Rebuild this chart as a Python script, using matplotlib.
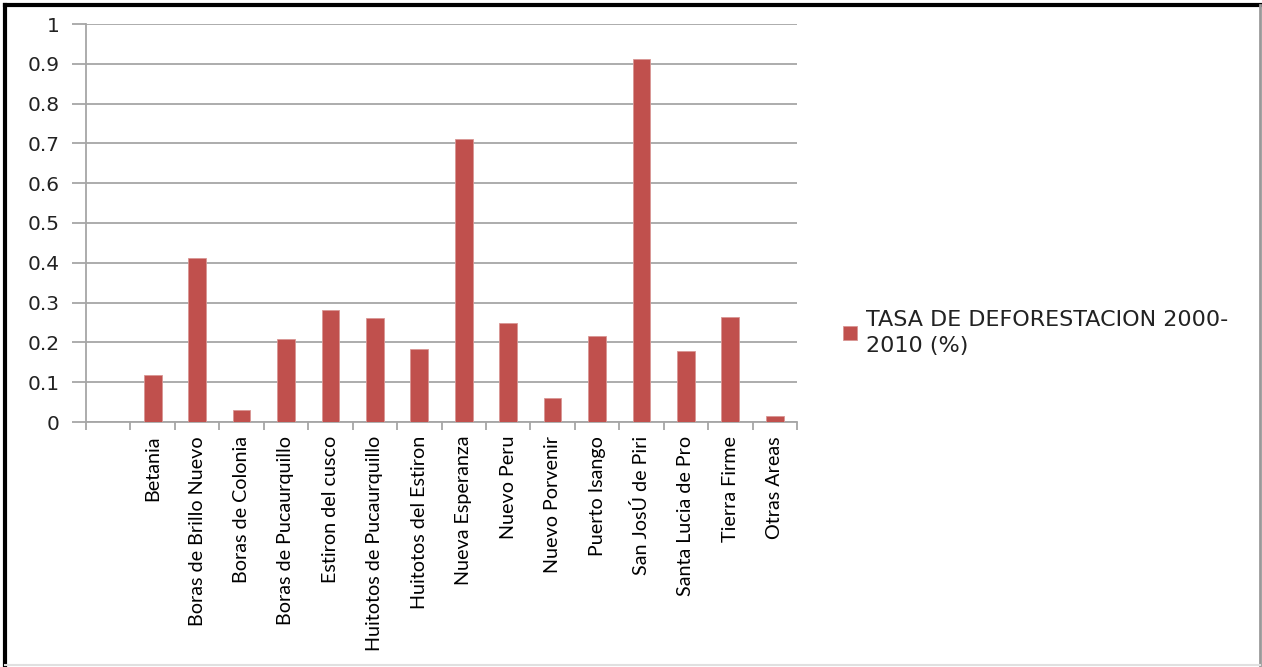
import matplotlib
matplotlib.use("Agg")
import matplotlib.pyplot as plt
import numpy as np
from matplotlib.lines import Line2D

categories = ["Betania", "Boras de Brillo Nuevo", "Boras de Colonia",
              "Boras de Pucaurquillo", "Estiron del cusco",
              "Huitotos de Pucaurquillo", "Huitotos del Estiron",
              "Nueva Esperanza", "Nuevo Peru", "Nuevo Porvenir",
              "Puerto Isango", "San JosÚ de Piri", "Santa Lucia de Pro",
              "Tierra Firme", "Otras Areas"]
tasa = [0.117, 0.412, 0.030, 0.209, 0.282, 0.262, 0.184, 0.710, 0.249,
        0.061, 0.217, 0.911, 0.178, 0.264, 0.014]
series_label = "TASA DE DEFORESTACION 2000-\n2010 (%)"
yticks = [0, 0.1, 0.2, 0.3, 0.4, 0.5, 0.6, 0.7, 0.8, 0.9, 1]
ytick_labels = ["0", "0.1", "0.2", "0.3", "0.4", "0.5", "0.6", "0.7", "0.8", "0.9", "1"]

W, H = 1262, 667
fig = plt.figure(figsize=(W / 100, H / 100), dpi=100)
ax = fig.add_axes([86 / W, 1 - 422 / H, (797 - 86) / W, (422 - 24) / H])

grid_c = "#A6A6A6"
bar_c = "#C0504D"
x = np.arange(len(categories)) + 1
ax.bar(x, tasa, width=0.4, color=bar_c, edgecolor="#D99694", linewidth=0.6,
       label=series_label, zorder=3)

ax.set_xlim(-0.5, len(categories) + 0.5)
ax.set_ylim(0, 1)
ax.set_yticks(yticks)
ax.set_yticklabels(ytick_labels, fontsize=14.5, family="DejaVu Sans", color="#222222")
ax.yaxis.grid(True, color=grid_c, linewidth=1.3, zorder=0)
ax.tick_params(axis="y", direction="out", length=10, width=1.3, color=grid_c, pad=9)

ax.set_xticks(x)
ax.set_xticklabels(categories, rotation=90, fontsize=14.2, family="Lato",
                   color="#000000", va="top", ha="center")
ax.tick_params(axis="x", which="major", length=0, pad=10)
ax.set_xticks(np.arange(len(categories) + 2) - 0.5, minor=True)
ax.tick_params(axis="x", which="minor", direction="out", length=6, width=1.3, color=grid_c)

for s in ["top", "right"]:
    ax.spines[s].set_visible(False)
for s in ["left", "bottom"]:
    ax.spines[s].set_color(grid_c)
    ax.spines[s].set_linewidth(1.3)

leg = ax.legend(loc="center left", bbox_to_anchor=(823 / W, 1 - 333 / H),
                bbox_transform=fig.transFigure, frameon=False,
                handlelength=0.62, handleheight=0.62, handletextpad=0.4,
                prop={"family": "DejaVu Sans", "size": 16})
for t in leg.get_texts():
    t.set_color("#222222")
    t.set_linespacing(1.42)

# outer border
fig.add_artist(Line2D([5 / W, 5 / W], [0, 1 - 5 / H], color="black", lw=3, transform=fig.transFigure))
fig.add_artist(Line2D([5 / W, 1], [1 - 5 / H, 1 - 5 / H], color="black", lw=3, transform=fig.transFigure))
fig.add_artist(Line2D([1260 / W, 1260 / W], [0, 1 - 5 / H], color="#999999", lw=2, transform=fig.transFigure))
fig.add_artist(Line2D([5 / W, 1260 / W], [2 / H, 2 / H], color="#E0E0E0", lw=1.5, transform=fig.transFigure))

fig.savefig("out.png", dpi=100)
